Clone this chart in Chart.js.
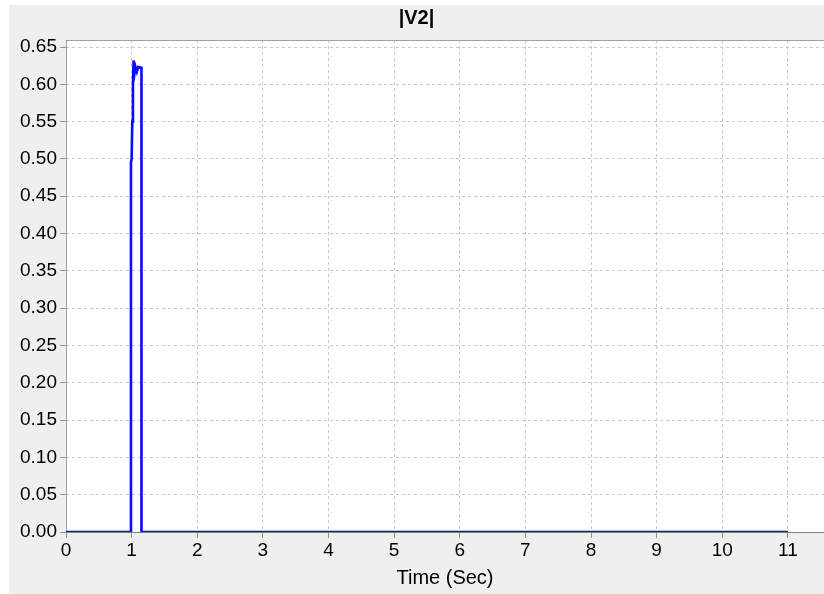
<!DOCTYPE html>
<html>
<head>
<meta charset="utf-8">
<title>|V2|</title>
<script src="https://cdn.jsdelivr.net/npm/chart.js@4"></script>
<style>
  html, body { margin: 0; padding: 0; background: #fff; }
  #wrap { width: 824px; height: 594px; }
</style>
</head>
<body>
<div id="wrap"><canvas id="v2Chart" width="824" height="594"></canvas></div>
<script>
  // |V2| magnitude over time
  const timeSec = [0, 0.99, 0.99, 1.0, 1.01, 1.02, 1.03, 1.045, 1.06, 1.08, 1.1, 1.15, 1.15, 11];
  const v2Mag = [0, 0, 0.495, 0.5, 0.55, 0.6, 0.632, 0.615, 0.623, 0.617, 0.623, 0.622, 0, 0];

  const xTicks = [0, 1, 2, 3, 4, 5, 6, 7, 8, 9, 10, 11];
  const yTicks = [0, 0.05, 0.1, 0.15, 0.2, 0.25, 0.3, 0.35, 0.4, 0.45, 0.5, 0.55, 0.6, 0.65];

  const points = timeSec.map((t, i) => ({ x: t, y: v2Mag[i] }));

  // gray panel, white plot area, solid frame lines
  const panelBg = {
    id: 'panelBg',
    beforeDraw(chart) {
      const c = chart.ctx;
      const a = chart.chartArea;
      c.save();
      c.fillStyle = '#fff';
      c.fillRect(0, 0, chart.width, chart.height);
      c.fillStyle = '#efefef';
      c.fillRect(9, 5, chart.width - 9, chart.height - 5);
      c.fillStyle = '#fff';
      c.fillRect(a.left, a.top, a.right - a.left, a.bottom - a.top);
      c.restore();
    },
    beforeDatasetsDraw(chart) {
      const c = chart.ctx;
      const a = chart.chartArea;
      c.save();
      c.setLineDash([]);
      c.lineWidth = 1;
      c.strokeStyle = '#a0a0a0';
      c.beginPath();
      c.moveTo(a.left, a.top + 0.5);
      c.lineTo(a.right, a.top + 0.5);
      c.moveTo(a.left + 0.5, a.top);
      c.lineTo(a.left + 0.5, a.bottom);
      c.stroke();
      c.strokeStyle = '#808080';
      c.beginPath();
      c.moveTo(a.left, a.bottom + 0.5);
      c.lineTo(a.right, a.bottom + 0.5);
      c.stroke();
      c.restore();
    }
  };

  const tickFont = { family: '"Liberation Sans", Arial, sans-serif', size: 19 };
  const titleFont = { family: '"Liberation Sans", Arial, sans-serif', size: 20 };

  const gridOpts = {
    color: '#c8c8c8',
    tickColor: '#909090',
    tickLength: 6,
    tickBorderDash: []
  };

  new Chart(document.getElementById('v2Chart'), {
    type: 'scatter',
    data: {
      datasets: [{
        data: points,
        showLine: true,
        borderColor: '#0a0aff',
        borderWidth: 2.6,
        pointRadius: 0,
        tension: 0
      }]
    },
    options: {
      responsive: false,
      animation: false,
      layout: { padding: { left: 9, top: 6, right: 0, bottom: 0 } },
      plugins: {
        legend: { display: false },
        tooltip: { enabled: false },
        title: {
          display: true,
          text: '|V2|',
          color: '#000',
          font: { family: titleFont.family, size: 20, weight: 'bold' },
          padding: { top: 0, bottom: 10 }
        }
      },
      scales: {
        x: {
          type: 'linear',
          min: 0,
          max: 11.55,
          afterBuildTicks: s => { s.ticks = xTicks.map(v => ({ value: v })); },
          afterFit: s => { s.height = 62; },
          ticks: { color: '#000', font: tickFont, padding: 1, maxRotation: 0, includeBounds: false },
          grid: gridOpts,
          border: { display: false, dash: [3, 3] },
          title: {
            display: true,
            text: 'Time (Sec)',
            color: '#000',
            font: titleFont,
            padding: { top: 0, bottom: 4 }
          }
        },
        y: {
          type: 'linear',
          min: 0,
          max: 0.6594,
          afterBuildTicks: s => { s.ticks = yTicks.map(v => ({ value: v })); },
          afterFit: s => { s.width = 57; },
          ticks: {
            color: '#000',
            font: tickFont,
            padding: 3,
            includeBounds: false,
            callback: v => v.toFixed(2)
          },
          grid: gridOpts,
          border: { display: false, dash: [3, 3] }
        }
      }
    },
    plugins: [panelBg]
  });
</script>
</body>
</html>
